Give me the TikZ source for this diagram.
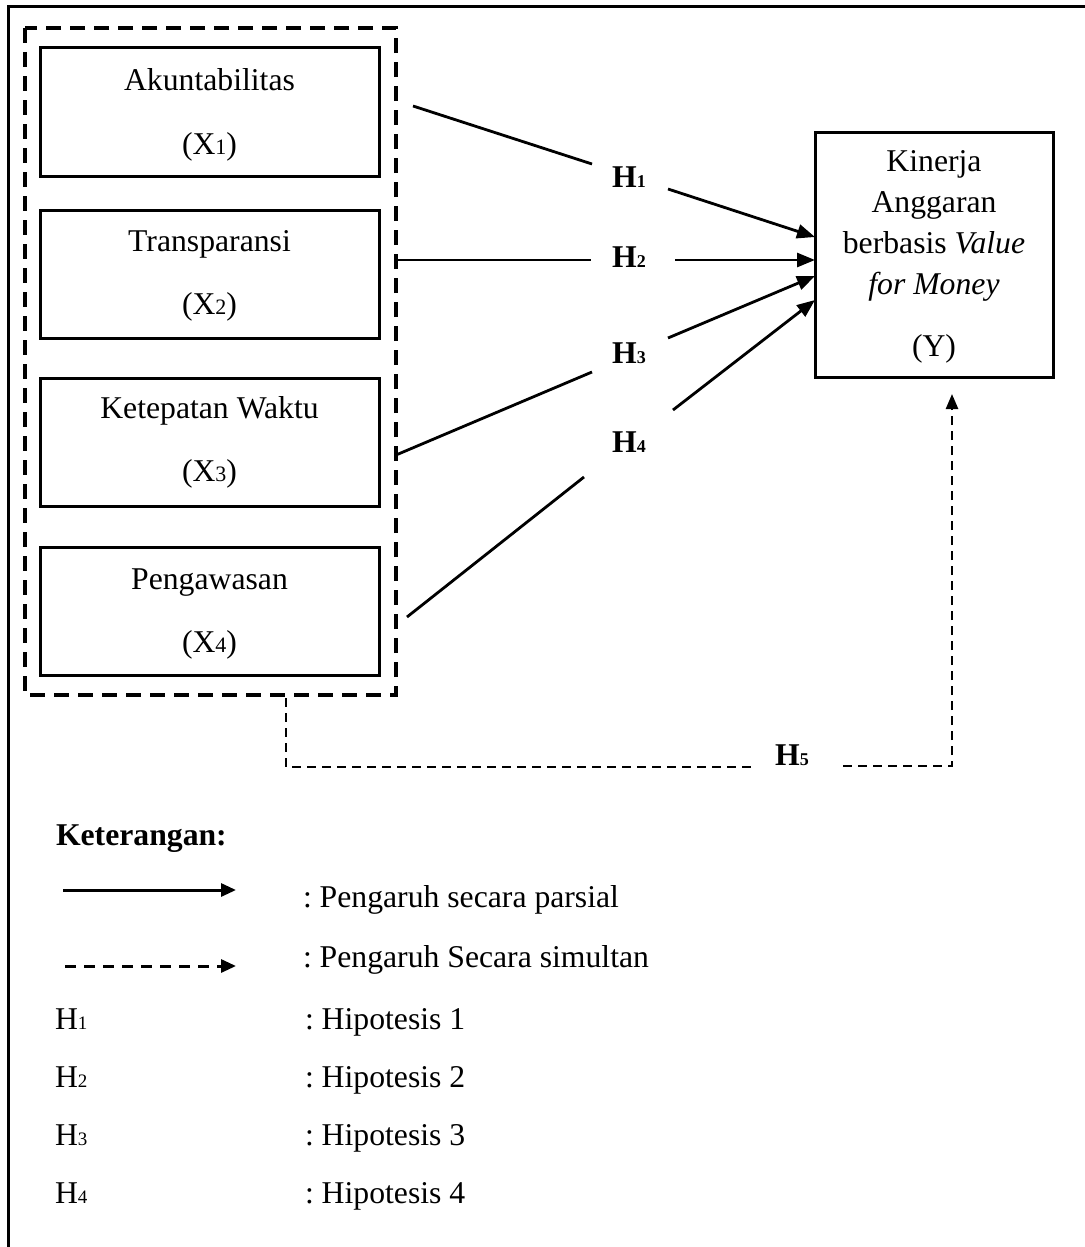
\documentclass[tikz,border=0pt]{standalone}
\usepackage{fontspec}
\setmainfont{Liberation Serif}
\usetikzlibrary{arrows.meta}
\frenchspacing
\newcommand{\sbs}[1]{{\fontsize{19}{19}\selectfont #1}}
\newcommand{\sbx}[1]{{\fontsize{22}{22}\selectfont #1}}
\newcommand{\sbh}[1]{{\fontsize{18}{18}\selectfont #1}}
\begin{document}
\begin{tikzpicture}[x=1pt,y=-1pt,
  every node/.style={font=\fontsize{31.7}{38}\selectfont, inner sep=0pt, outer sep=0pt},
  varbox/.style={draw, line width=3pt, minimum width=339pt, minimum height=128pt},
  txt/.style={anchor=base},
  ltxt/.style={anchor=base west},
  hlab/.style={anchor=base, font=\fontsize{31.7}{38}\selectfont\bfseries},
  arr/.style={line width=2.8pt, -{Triangle[length=18pt,width=14pt]}},
  ln/.style={line width=2.8pt},
  grp/.style={line width=4pt, dash pattern=on 15pt off 9pt},
  sim/.style={line width=2.5pt, dash pattern=on 9pt off 6pt},
  simarr/.style={sim, -{Triangle[length=15pt,width=12pt]}}
]
\useasboundingbox (0,0) rectangle (1084,1247);
\fill[white] (0,0) rectangle (1084,1247);
% outer frame (right and bottom edges are outside the picture)
\draw[line width=3pt] (8,1260) -- (8,7) -- (1095,7);

% dashed group
\draw[grp] (25,28) rectangle (396,695);

% independent variable boxes
\node[varbox] (x1) at (209.5,112) {};
\node[varbox] (x2) at (209.5,274) {};
\node[varbox] (x3) at (209.5,442) {};
\node[varbox] (x4) at (209.5,611) {};
\node[txt] (t1) at (209.5,90) {Akuntabilitas};
\node[txt] (s1) at (209.5,154) {(X\sbx{1})};
\node[txt] (t2) at (209.5,251) {Transparansi};
\node[txt] (s2) at (209.5,314) {(X\sbx{2})};
\node[txt] (t3) at (209.5,418) {Ketepatan Waktu};
\node[txt] (s3) at (209.5,481) {(X\sbx{3})};
\node[txt] (t4) at (209.5,589) {Pengawasan};
\node[txt] (s4) at (209.5,652) {(X\sbx{4})};

% dependent variable
\node[draw, line width=3pt, minimum width=238pt, minimum height=245pt] (Y) at (934,254.5) {};
\node[txt] (y1) at (934,171) {Kinerja};
\node[txt] (y2) at (934,212) {Anggaran};
\node[txt] (y3) at (934,253) {berbasis \textit{Value}};
\node[txt] (y4) at (934,294) {\textit{for Money}};
\node[txt] (y5) at (934,356) {(Y)};

% hypothesis labels
\node[hlab] (H1) at (629,187) {H\sbh{1}};
\node[hlab] (H2) at (629,267) {H\sbh{2}};
\node[hlab] (H3) at (629,363) {H\sbh{3}};
\node[hlab] (H4) at (629,452) {H\sbh{4}};
\node[hlab] (H5) at (792,765) {H\sbh{5}};

% coordinates for connector ends
\coordinate (a1) at (413,106);  \coordinate (b1) at (592,164);
\coordinate (c1) at (668,189);  \coordinate (e1) at (815,237);
\coordinate (a2) at (396,260);  \coordinate (b2) at (591,260);
\coordinate (c2) at (675,260);  \coordinate (e2) at (815,260);
\coordinate (a3) at (396,455);  \coordinate (b3) at (592,372);
\coordinate (c3) at (668,338);  \coordinate (e3) at (815,276);
\coordinate (a4) at (407,617);  \coordinate (b4) at (584,477);
\coordinate (c4) at (673,410);  \coordinate (e4) at (815,300);

\draw[ln] (a1) -- (b1);  \draw[arr] (c1) -- (e1);
\draw[ln] (a2) -- (b2);  \draw[arr] (c2) -- (e2);
\draw[ln] (a3) -- (b3);  \draw[arr] (c3) -- (e3);
\draw[ln] (a4) -- (b4);  \draw[arr] (c4) -- (e4);

% simultaneous path H5
\coordinate (g0) at (286,698);
\coordinate (g1) at (286,767);
\coordinate (g2) at (752,767);
\coordinate (g3) at (843,766);
\coordinate (g4) at (952,766);
\coordinate (g5) at (952,394);
\draw[sim] (g0) -- (g1) -- (g2);
\draw[simarr] (g3) -- (g4) -- (g5);

% legend
\node[ltxt, font=\fontsize{31.7}{38}\selectfont\bfseries] (ket) at (56,845) {Keterangan:};
\coordinate (la1) at (63,890);  \coordinate (lb1) at (236,890);
\coordinate (la2) at (65,966);  \coordinate (lb2) at (236,966);
\draw[line width=3pt, -{Triangle[length=15pt,width=13pt]}] (la1) -- (lb1);
\draw[line width=3pt, dash pattern=on 11pt off 8pt, -{Triangle[length=15pt,width=13pt]}] (la2) -- (lb2);
\node[ltxt] (l1) at (303,907) {: Pengaruh secara parsial};
\node[ltxt] (l2) at (303,967) {: Pengaruh Secara simultan};
\node[ltxt] (k1) at (55,1029) {H\sbs{1}};
\node[ltxt] (k2) at (55,1087) {H\sbs{2}};
\node[ltxt] (k3) at (55,1145) {H\sbs{3}};
\node[ltxt] (k4) at (55,1203) {H\sbs{4}};
\node[ltxt] (d1) at (305,1029) {: Hipotesis 1};
\node[ltxt] (d2) at (305,1087) {: Hipotesis 2};
\node[ltxt] (d3) at (305,1145) {: Hipotesis 3};
\node[ltxt] (d4) at (305,1203) {: Hipotesis 4};
\end{tikzpicture}
\end{document}
